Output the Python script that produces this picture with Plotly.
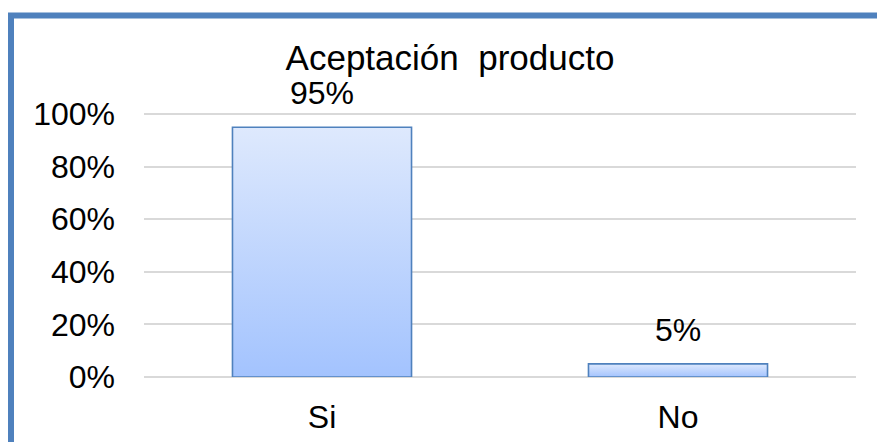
import plotly.graph_objects as go

# Chart data
categories = ["Si", "No"]
shares = [0.95, 0.05]
label_texts = ["95%", "5%"]
y_ticks = [0, 0.2, 0.4, 0.6, 0.8, 1.0]
y_tick_labels = ["0%", "20%", "40%", "60%", "80%", "100%"]

W, H = 877, 442
M_L, M_R, M_T, M_B = 144, 21, 113, 65
Y_TOP = 1.004
BAR_W = 0.503
FONT = "Liberation Sans, Arial, sans-serif"
OUTLINE = "#4F81BD"
GRID = "#D9D9D9"

fig = go.Figure()

# Each bar is a filled polygon so it can carry a vertical gradient
for i, (cat, v) in enumerate(zip(categories, shares)):
    x0, x1 = i - BAR_W / 2, i + BAR_W / 2
    fig.add_trace(go.Scatter(
        x=[x0, x0, x1, x1, x0],
        y=[0, v, v, 0, 0],
        mode="lines",
        fill="toself",
        fillgradient=dict(
            type="vertical",
            colorscale=[[0, "#A3C3FE"], [1, "#DEE9FD"]],
        ),
        line=dict(color=OUTLINE, width=1.6),
        hoverinfo="skip",
        showlegend=False,
        name=cat,
    ))

# Value labels above the bars
for i, (v, t) in enumerate(zip(shares, label_texts)):
    fig.add_annotation(
        x=i, y=v, xref="x", yref="y",
        text=t, showarrow=False,
        yanchor="bottom", yshift=14,
        font=dict(family=FONT, size=32, color="#000000"),
    )

# Chart frame (top and left edges visible)
fig.add_shape(
    type="rect", xref="paper", yref="paper",
    x0=(11 - M_L) / (W - M_L - M_R),
    x1=(W + 20 - M_L) / (W - M_L - M_R),
    y0=1 - (H + 20 - M_T) / (H - M_T - M_B),
    y1=1 + (M_T - 15.5) / (H - M_T - M_B),
    line=dict(color=OUTLINE, width=6),
    layer="above",
)

fig.update_layout(
    width=W, height=H,
    margin=dict(l=M_L, r=M_R, t=M_T, b=M_B, pad=0, autoexpand=False),
    paper_bgcolor="white",
    plot_bgcolor="white",
    title=dict(
        text="Aceptación&nbsp; producto",
        x=450 / W, xanchor="center", xref="container",
        y=1 - 58 / H, yanchor="middle", yref="container",
        font=dict(family=FONT, size=35, color="#000000"),
        automargin=False,
    ),
    xaxis=dict(
        range=[-0.5, 1.5],
        tickvals=list(range(len(categories))),
        ticktext=categories,
        showgrid=False,
        zeroline=False,
        showline=False,
        ticks="",
        ticklabelstandoff=18,
        tickfont=dict(family=FONT, size=32, color="#000000"),
        automargin=False,
        fixedrange=True,
    ),
    yaxis=dict(
        range=[0, Y_TOP],
        tickvals=y_ticks,
        ticktext=y_tick_labels,
        showgrid=True,
        gridcolor=GRID,
        gridwidth=2,
        zeroline=True,
        zerolinecolor=GRID,
        zerolinewidth=2,
        showline=False,
        ticks="",
        ticklabelstandoff=28,
        tickfont=dict(family=FONT, size=32, color="#000000"),
        automargin=False,
        fixedrange=True,
    ),
    showlegend=False,
)

fig.write_html("out.html")
